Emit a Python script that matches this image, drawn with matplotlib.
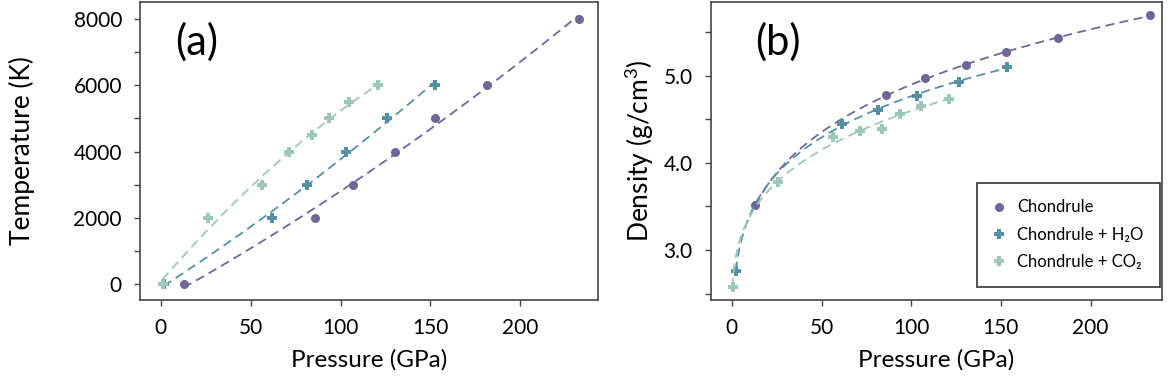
import numpy as np
import matplotlib
matplotlib.use('Agg')
import matplotlib.pyplot as plt
from matplotlib.ticker import MultipleLocator, FormatStrFormatter

plt.rcParams['font.family'] = ['Lato', 'DejaVu Sans']
plt.rcParams['mathtext.fontset'] = 'custom'
plt.rcParams['mathtext.rm'] = 'Lato'

# ---- panel (a): temperature vs pressure
p_chon_a = [12.6, 85.8, 107.1, 130.3, 152.4, 181.7, 232.6]
t_chon = [0, 2000, 3000, 4000, 5000, 6000, 8000]
p_h2o_a = [1.5, 61.7, 81.2, 102.9, 125.7, 152.6]
t_h2o = [0, 2000, 3000, 4000, 5000, 6000]
p_co2_a = [0.9, 26.1, 56.5, 71.5, 84.0, 93.6, 104.9, 120.7]
t_co2 = [0, 2000, 3000, 4000, 4500, 5000, 5500, 6000]

# ---- panel (b): density vs pressure
p_chon_b = [13.2, 86.0, 107.7, 130.4, 152.8, 182.0, 233.0]
rho_chon = [3.51, 4.775, 4.97, 5.12, 5.265, 5.435, 5.69]
p_h2o_b = [2.2, 61.6, 81.5, 103.2, 126.4, 153.4]
rho_h2o = [2.76, 4.445, 4.61, 4.77, 4.93, 5.10]
p_co2_b = [0.4, 26.0, 56.6, 71.5, 83.9, 93.8, 105.3, 121.2]
rho_co2 = [2.58, 3.775, 4.29, 4.365, 4.39, 4.565, 4.655, 4.735]

labels = ['Chondrule', 'Chondrule + H\u2082O', 'Chondrule + CO\u2082']
colors = ['#6e6799', '#5591a3', '#9dc7bb']
markers = ['o', 'P', 'P']


def fit_quad(x, y):
    c = np.polyfit(x, y, 2)
    xs = np.linspace(min(x), max(x), 200)
    return xs, np.polyval(c, xs)


def fit_pow(x, y):
    # y = a + b * x**c, pick c by least squares
    x = np.asarray(x)
    y = np.asarray(y)
    best = None
    for c in np.linspace(0.05, 1.0, 191):
        A = np.vstack([np.ones_like(x), x ** c]).T
        sol = np.linalg.lstsq(A, y, rcond=None)[0]
        err = np.sum((A @ sol - y) ** 2)
        if best is None or err < best[0]:
            best = (err, c, sol)
    _, c, sol = best
    xs = np.linspace(x.min(), x.max(), 300)
    return xs, sol[0] + sol[1] * xs ** c


fig = plt.figure(figsize=(11.72, 3.83), dpi=100)
ax1 = fig.add_axes([0.1195, 0.217, 0.3905, 0.778])
ax2 = fig.add_axes([0.6065, 0.217, 0.3847, 0.778])

data_a = [(p_chon_a, t_chon), (p_h2o_a, t_h2o), (p_co2_a, t_co2)]
data_b = [(p_chon_b, rho_chon), (p_h2o_b, rho_h2o), (p_co2_b, rho_co2)]

for (x, y), col, mk, lab in zip(data_a, colors, markers, labels):
    xs, ys = fit_quad(x, y)
    ax1.plot(xs, ys, '--', color=col, lw=1.3, dashes=(5, 3))
    ax1.plot(x, y, mk, color=col, ms=6.5 if mk == 'o' else 7, mew=0, label=lab)

for (x, y), col, mk, lab in zip(data_b, colors, markers, labels):
    xs, ys = fit_pow(x, y)
    ax2.plot(xs, ys, '--', color=col, lw=1.3, dashes=(5, 3))
    ax2.plot(x, y, mk, color=col, ms=6.5 if mk == 'o' else 7, mew=0, label=lab)

ax1.set_xlim(-11.6, 243.2)
ax1.set_ylim(-470, 8510)
ax1.xaxis.set_major_locator(MultipleLocator(50))
ax1.yaxis.set_major_locator(MultipleLocator(2000))
ax1.yaxis.set_minor_locator(MultipleLocator(1000))
ax1.set_xlabel('Pressure (GPa)', fontsize=17.5)
ax1.set_ylabel('Temperature (K)', fontsize=19)
ax1.xaxis.set_label_coords(0.5, -0.165)
ax1.yaxis.set_label_coords(-0.23, 0.5)
ax1.text(0.076, 0.93, '(a)', transform=ax1.transAxes, fontsize=30, va='top')

ax2.set_xlim(-11.7, 239.6)
ax2.set_ylim(2.427, 5.845)
ax2.xaxis.set_major_locator(MultipleLocator(50))
ax2.yaxis.set_major_locator(MultipleLocator(1.0))
ax2.yaxis.set_minor_locator(MultipleLocator(0.5))
ax2.yaxis.set_major_formatter(FormatStrFormatter('%.1f'))
ax2.set_xlabel('Pressure (GPa)', fontsize=17.5)
ax2.set_ylabel('Density (g/cm$^3$)', fontsize=19)
ax2.xaxis.set_label_coords(0.5, -0.165)
ax2.yaxis.set_label_coords(-0.122, 0.5)
ax2.text(0.098, 0.93, '(b)', transform=ax2.transAxes, fontsize=30, va='top')

for ax in (ax1, ax2):
    for s in ax.spines.values():
        s.set_color('#444444')
        s.set_linewidth(1.2)
    ax.tick_params(which='both', direction='out', length=4, width=1,
                   color='#444444', labelsize=15, pad=9)

leg = ax2.legend(loc='lower right', bbox_to_anchor=(0.996, 0.044), fontsize=12,
                 frameon=True, fancybox=False, handletextpad=0.7,
                 labelspacing=0.68, borderpad=1.0, handlelength=0.7,
                 borderaxespad=0)
leg.get_frame().set_edgecolor('black')
leg.get_frame().set_linewidth(1.2)

fig.savefig('out.png', dpi=100)
